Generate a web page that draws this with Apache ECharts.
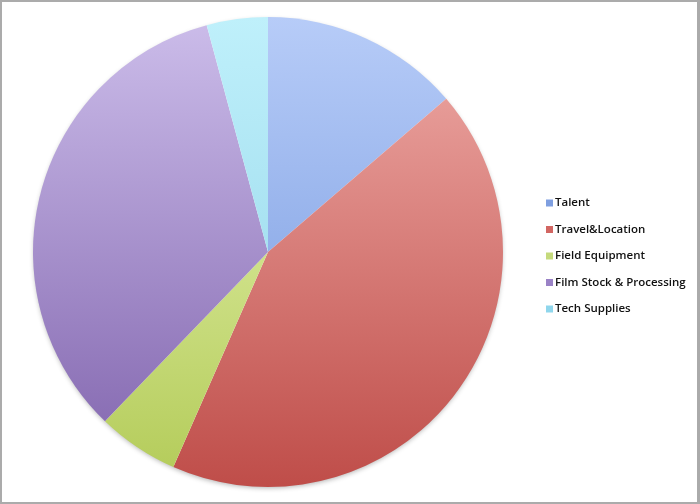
<!DOCTYPE html>
<html>
<head>
<meta charset="utf-8">
<script src="https://cdn.jsdelivr.net/npm/echarts@6/dist/echarts.min.js"></script>
<style>
  html, body { margin: 0; padding: 0; background: #fff; }
  #chart { width: 700px; height: 504px; box-sizing: border-box; border: 2px solid #ababab; border-right-width: 3px; }
</style>
</head>
<body>
<div id="chart"></div>
<script>
// Budget breakdown by category (percent of total)
const categories = ['Talent', 'Travel&Location', 'Field Equipment', 'Film Stock & Processing', 'Tech Supplies'];
const values = [13.7, 42.9, 5.6, 33.6, 4.2];
// Top / bottom shades of each slice's vertical gradient
const topColors = ['#b7ccf8', '#efaca8', '#ecf8bc', '#ccbdea', '#bff0fb'];
const bottomColors = ['#6f94dc', '#bf4d49', '#b3cb58', '#7f62ac', '#8ed2e6'];
const legendColors = ['#7f9fe0', '#d26662', '#c5da7c', '#9a82c6', '#8fd6ec'];

const chart = echarts.init(document.getElementById('chart'));
const cx = 266, cy = 250, r = 235;

const data = categories.map((name, i) => ({
  name,
  value: values[i],
  itemStyle: {
    color: new echarts.graphic.LinearGradient(0, cy - r, 0, cy + r, [
      { offset: 0, color: topColors[i] },
      { offset: 1, color: bottomColors[i] }
    ], true)
  }
}));

chart.setOption({
  animation: false,
  legend: {
    orient: 'vertical',
    left: 539,
    top: 189,
    itemWidth: 7,
    itemHeight: 7,
    itemGap: 12.5,
    icon: 'rect',
    textStyle: {
      fontFamily: 'Open Sans', fontSize: 11.5, fontWeight: 600, lineHeight: 14,
      color: '#111', padding: [0, 0, 0, -3]
    },
    data: categories.map((name, i) => ({ name, itemStyle: { color: legendColors[i] } }))
  },
  series: [
    {
      // soft drop shadow under the whole disc
      type: 'pie',
      silent: true,
      z: 1,
      center: [cx, cy],
      radius: [0, r - 1],
      label: { show: false },
      labelLine: { show: false },
      itemStyle: {
        color: '#ffffff',
        shadowBlur: 5,
        shadowOffsetY: 2,
        shadowColor: 'rgba(0,0,0,0.3)'
      },
      data: [{ name: '', value: 1 }]
    },
    {
      type: 'pie',
      z: 2,
      center: [cx, cy],
      radius: [0, r],
      startAngle: 90,
      clockwise: true,
      label: { show: false },
      labelLine: { show: false },
      emphasis: { disabled: true },
      itemStyle: { borderWidth: 0 },
      data
    }
  ]
});
</script>
</body>
</html>
